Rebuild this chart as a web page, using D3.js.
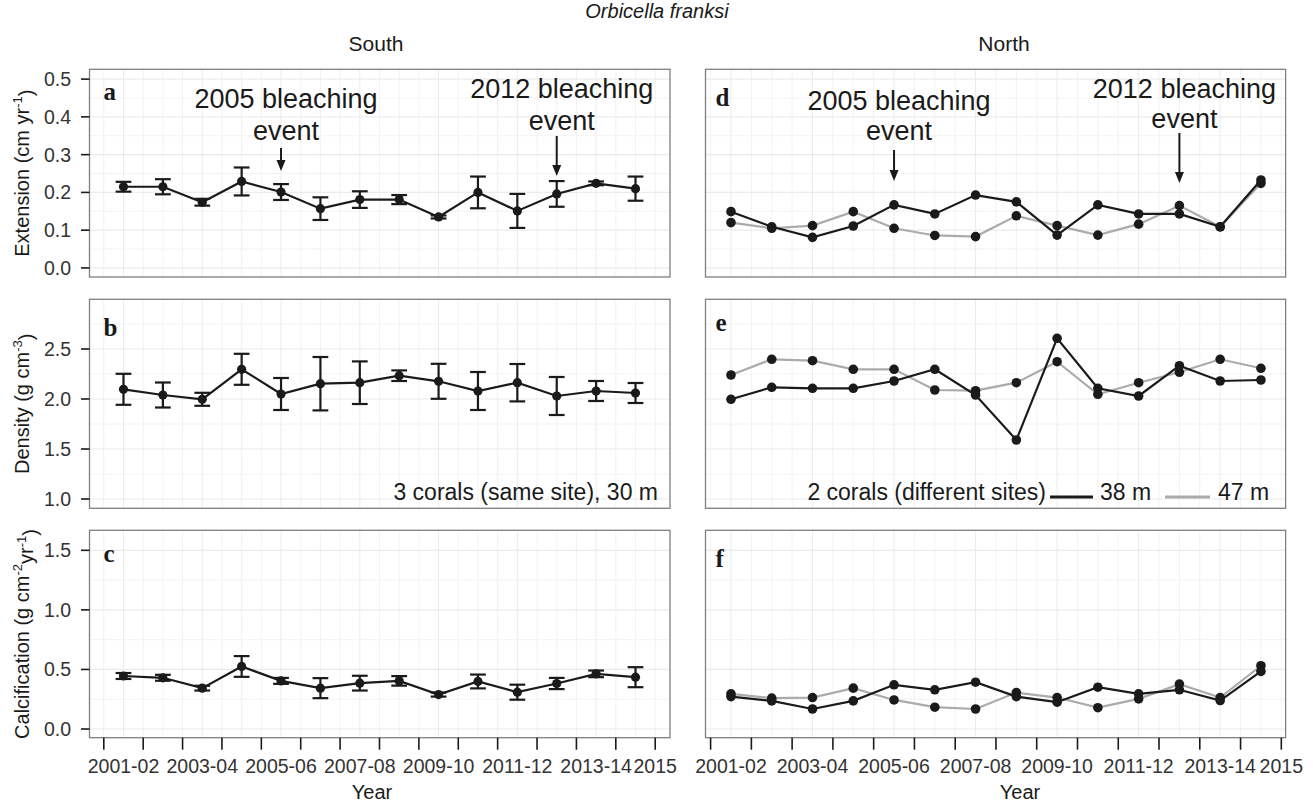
<!DOCTYPE html>
<html>
<head>
<meta charset="utf-8">
<script src="https://cdnjs.cloudflare.com/ajax/libs/d3/7.8.5/d3.min.js"></script>
<style>
  html, body { margin: 0; padding: 0; background: #ffffff; }
  svg { display: block; }
  text { font-family: "Liberation Sans", Arial, Helvetica, sans-serif; fill: #1a1a1a; }
</style>
</head>
<body>
<svg id="chart" width="1313" height="805"></svg>
<script>
// ---------------- DATA ----------------
const years = [2001.5, 2002.5, 2003.5, 2004.5, 2005.5, 2006.5, 2007.5, 2008.5, 2009.5, 2010.5, 2011.5, 2012.5, 2013.5, 2014.5];
const tickYears = [2001, 2002, 2003, 2004, 2005, 2006, 2007, 2008, 2009, 2010, 2011, 2012, 2013, 2014, 2015];
const xLabels = ["2001-02", "2003-04", "2005-06", "2007-08", "2009-10", "2011-12", "2013-14", "2015"];
const xLabelYears = [2001.5, 2003.5, 2005.5, 2007.5, 2009.5, 2011.5, 2013.5, 2015];

// South (mean ± error), 3 corals, 30 m
const southExtension    = [0.215, 0.215, 0.174, 0.229, 0.201, 0.157, 0.181, 0.181, 0.135, 0.200, 0.151, 0.196, 0.224, 0.210];
const southExtensionErr = [0.013, 0.020, 0.009, 0.037, 0.021, 0.030, 0.022, 0.012, 0.004, 0.042, 0.045, 0.034, 0.005, 0.032];
const southDensity      = [2.097, 2.040, 1.997, 2.297, 2.050, 2.153, 2.163, 2.233, 2.177, 2.080, 2.163, 2.030, 2.080, 2.060];
const southDensityErr   = [0.155, 0.125, 0.065, 0.155, 0.160, 0.267, 0.213, 0.053, 0.175, 0.190, 0.187, 0.190, 0.100, 0.100];
const southCalc         = [0.445, 0.430, 0.343, 0.525, 0.404, 0.343, 0.385, 0.404, 0.289, 0.399, 0.309, 0.382, 0.463, 0.435];
const southCalcErr      = [0.025, 0.025, 0.020, 0.087, 0.025, 0.084, 0.062, 0.040, 0.017, 0.058, 0.063, 0.047, 0.028, 0.084];

// North, 2 corals at different sites
const north38Extension = [0.149, 0.109, 0.081, 0.111, 0.167, 0.143, 0.193, 0.175, 0.087, 0.167, 0.143, 0.143, 0.109, 0.233];
const north47Extension = [0.120, 0.105, 0.112, 0.149, 0.105, 0.086, 0.083, 0.138, 0.112, 0.087, 0.116, 0.165, 0.109, 0.224];
const north38Density   = [1.997, 2.117, 2.107, 2.107, 2.180, 2.297, 2.040, 1.590, 2.607, 2.107, 2.030, 2.333, 2.180, 2.190];
const north47Density   = [2.240, 2.397, 2.383, 2.297, 2.297, 2.090, 2.083, 2.163, 2.373, 2.047, 2.163, 2.267, 2.397, 2.307];
const north38Calc      = [0.272, 0.236, 0.168, 0.236, 0.371, 0.329, 0.393, 0.272, 0.225, 0.351, 0.295, 0.329, 0.239, 0.483];
const north47Calc      = [0.295, 0.259, 0.264, 0.343, 0.244, 0.183, 0.168, 0.306, 0.264, 0.179, 0.253, 0.377, 0.264, 0.531];

const yTicksExt  = [0.0, 0.1, 0.2, 0.3, 0.4, 0.5];
const yTicksDen  = [1.0, 1.5, 2.0, 2.5];
const yTicksCalc = [0.0, 0.5, 1.0, 1.5];
const yMinorExt  = [0.05, 0.15, 0.25, 0.35, 0.45];
const yMinorDen  = [1.25, 1.75, 2.25, 2.75];
const yMinorCalc = [0.25, 0.75, 1.25];

const events = [2005.5, 2012.5];
const eventLabels = ["2005 bleaching", "2012 bleaching"];

// ---------------- LAYOUT ----------------
const svg = d3.select("#chart");
const BLACK = "#1a1a1a", GREY = "#ababab";

const cols = [
  { left: 89.5,  right: 670,    domain: [2000.637, 2015.376] },
  { left: 705.5, right: 1285.6, domain: [2000.875, 2015.105] }
];
const rows = [
  { top: 69.3,  bottom: 277,   domain: [-0.024, 0.526], ticks: yTicksExt,  minor: yMinorExt },
  { top: 299.3, bottom: 508.3, domain: [0.907, 2.997],  ticks: yTicksDen,  minor: yMinorDen },
  { top: 530.3, bottom: 737.7, domain: [-0.073, 1.668], ticks: yTicksCalc, minor: yMinorCalc }
];
const xScales = cols.map(c => d3.scaleLinear().domain(c.domain).range([c.left, c.right]));
const yScales = rows.map(r => d3.scaleLinear().domain(r.domain).range([r.bottom, r.top]));

const panelLetters = [["a", "b", "c"], ["d", "e", "f"]];
const letterDy = [[31, 37, 32], [37, 32, 37]];

// grid
const gridYears = d3.range(2001, 2015.01, 0.5);
cols.forEach((c, ci) => {
  rows.forEach((r, ri) => {
    const x = xScales[ci], y = yScales[ri];
    const g = svg.append("g");
    g.selectAll(".vmin").data(gridYears).enter().append("line")
      .attr("x1", d => x(d)).attr("x2", d => x(d))
      .attr("y1", r.top).attr("y2", r.bottom)
      .attr("stroke", d => (d % 1 === 0.5 && (d - 2001.5) % 2 === 0) ? "#ebebeb" : "#f2f2f2")
      .attr("stroke-width", 1);
    g.selectAll(".hmin").data(r.minor).enter().append("line")
      .attr("x1", c.left).attr("x2", c.right)
      .attr("y1", d => y(d)).attr("y2", d => y(d))
      .attr("stroke", "#f2f2f2").attr("stroke-width", 1);
    g.selectAll(".hmaj").data(r.ticks).enter().append("line")
      .attr("x1", c.left).attr("x2", c.right)
      .attr("y1", d => y(d)).attr("y2", d => y(d))
      .attr("stroke", "#ebebeb").attr("stroke-width", 1.2);
  });
});

// ---------------- SOUTH ----------------
const southSeries = [
  [southExtension, southExtensionErr],
  [southDensity, southDensityErr],
  [southCalc, southCalcErr]
];
southSeries.forEach(([vals, errs], ri) => {
  const x = xScales[0], y = yScales[ri];
  const data = years.map((yr, i) => ({ yr, v: vals[i], e: errs[i] }));
  const g = svg.append("g");
  g.append("path").datum(data)
    .attr("d", d3.line().x(d => x(d.yr)).y(d => y(d.v)))
    .attr("fill", "none").attr("stroke", BLACK).attr("stroke-width", 2.2);
  const capW = x(2001.2) - x(2001);
  const eb = g.selectAll(".eb").data(data).enter().append("g");
  eb.append("line").attr("x1", d => x(d.yr)).attr("x2", d => x(d.yr))
    .attr("y1", d => y(d.v - d.e)).attr("y2", d => y(d.v + d.e))
    .attr("stroke", BLACK).attr("stroke-width", 2.2);
  eb.append("line").attr("x1", d => x(d.yr) - capW).attr("x2", d => x(d.yr) + capW)
    .attr("y1", d => y(d.v + d.e)).attr("y2", d => y(d.v + d.e))
    .attr("stroke", BLACK).attr("stroke-width", 2.2);
  eb.append("line").attr("x1", d => x(d.yr) - capW).attr("x2", d => x(d.yr) + capW)
    .attr("y1", d => y(d.v - d.e)).attr("y2", d => y(d.v - d.e))
    .attr("stroke", BLACK).attr("stroke-width", 2.2);
  g.selectAll(".pt").data(data).enter().append("circle")
    .attr("cx", d => x(d.yr)).attr("cy", d => y(d.v)).attr("r", 4.6)
    .attr("fill", BLACK);
});

// ---------------- NORTH ----------------
const northSeries = [
  [north38Extension, north47Extension],
  [north38Density, north47Density],
  [north38Calc, north47Calc]
];
northSeries.forEach(([v38, v47], ri) => {
  const x = xScales[1], y = yScales[ri];
  const g = svg.append("g");
  [[v47, GREY], [v38, BLACK]].forEach(([vals, col]) => {
    const data = years.map((yr, i) => ({ yr, v: vals[i] }));
    g.append("path").datum(data)
      .attr("d", d3.line().x(d => x(d.yr)).y(d => y(d.v)))
      .attr("fill", "none").attr("stroke", col).attr("stroke-width", 2.2);
  });
  [v47, v38].forEach(vals => {
    g.selectAll(null).data(years.map((yr, i) => ({ yr, v: vals[i] }))).enter().append("circle")
      .attr("cx", d => x(d.yr)).attr("cy", d => y(d.v)).attr("r", 4.8)
      .attr("fill", BLACK);
  });
});

// ---------------- BORDERS, AXES ----------------
cols.forEach((c, ci) => {
  rows.forEach((r, ri) => {
    svg.append("rect").attr("x", c.left).attr("y", r.top)
      .attr("width", c.right - c.left).attr("height", r.bottom - r.top)
      .attr("fill", "none").attr("stroke", "#7f7f7f").attr("stroke-width", 1.3);
    svg.append("text").text(panelLetters[ci][ri])
      .attr("x", c.left + (ci === 0 ? 14 : 10)).attr("y", r.top + letterDy[ci][ri])
      .style("font-family", "'Liberation Serif', 'Times New Roman', serif")
      .style("font-weight", "bold").style("font-size", "25px");
  });
});

// y axes (left column only)
rows.forEach((r, ri) => {
  const y = yScales[ri];
  const g = svg.append("g");
  g.selectAll("line").data(r.ticks).enter().append("line")
    .attr("x1", 81).attr("x2", cols[0].left)
    .attr("y1", d => y(d)).attr("y2", d => y(d))
    .attr("stroke", BLACK).attr("stroke-width", 1.6);
  g.selectAll("text").data(r.ticks).enter().append("text")
    .text(d => d3.format(".1f")(d))
    .attr("x", 71).attr("y", d => y(d)).attr("dy", "0.36em")
    .attr("text-anchor", "end").style("font-size", "19.5px").style("fill", "#333");
});

// x axes
cols.forEach((c, ci) => {
  const x = xScales[ci];
  const base = rows[2].bottom;
  const g = svg.append("g");
  g.selectAll("line").data(tickYears).enter().append("line")
    .attr("x1", d => x(d)).attr("x2", d => x(d))
    .attr("y1", base).attr("y2", base + 12)
    .attr("stroke", BLACK).attr("stroke-width", 1.6);
  g.selectAll("text").data(xLabelYears).enter().append("text")
    .text((d, i) => xLabels[i])
    .attr("x", d => x(d)).attr("y", 773)
    .attr("text-anchor", "middle").style("font-size", "19.5px").style("fill", "#333");
});

svg.append("text").text("Year").attr("x", 372).attr("y", 799)
  .attr("text-anchor", "middle").style("font-size", "20px");
svg.append("text").text("Year").attr("x", 1020).attr("y", 799)
  .attr("text-anchor", "middle").style("font-size", "20px");

// titles
svg.append("text").text("Orbicella franksi").attr("x", 657).attr("y", 18)
  .attr("text-anchor", "middle").style("font-size", "20px").style("font-style", "italic");
svg.append("text").text("South").attr("x", 376).attr("y", 51)
  .attr("text-anchor", "middle").style("font-size", "21px");
svg.append("text").text("North").attr("x", 1004).attr("y", 51)
  .attr("text-anchor", "middle").style("font-size", "21px");

// y-axis titles
function yTitle(cy, parts) {
  const t = svg.append("text").attr("transform", `translate(29,${cy}) rotate(-90)`)
    .attr("text-anchor", "middle").style("font-size", "20px");
  parts.forEach(p => {
    const ts = t.append("tspan").text(p[0]);
    if (p[1]) ts.attr("dy", p[1]).style("font-size", "13px");
    if (p[2]) ts.attr("dy", p[2]);
  });
}
yTitle((rows[0].top + rows[0].bottom) / 2, [["Extension (cm yr"], ["-1", "-0.55em"], [")", null, "0.55em"]]);
yTitle((rows[1].top + rows[1].bottom) / 2, [["Density (g cm"], ["-3", "-0.55em"], [")", null, "0.55em"]]);
yTitle((rows[2].top + rows[2].bottom) / 2, [["Calcification (g cm"], ["-2", "-0.55em"], ["yr", null, "0.55em"], ["-1", "-0.55em"], [")", null, "0.55em"]]);

// annotations: bleaching events
const annot = [
  { ci: 0, yr: events[0], label: eventLabels[0], ty1: 108, ty2: 140, a1: 148, a2: 171 },
  { ci: 0, yr: events[1], label: eventLabels[1], ty1: 98,  ty2: 130, a1: 136, a2: 176 },
  { ci: 1, yr: events[0], label: eventLabels[0], ty1: 110, ty2: 140, a1: 150, a2: 181 },
  { ci: 1, yr: events[1], label: eventLabels[1], ty1: 98,  ty2: 128, a1: 133, a2: 183 }
];
annot.forEach(a => {
  const xx = xScales[a.ci](a.yr);
  svg.append("text").text(a.label).attr("x", xx + 5).attr("y", a.ty1)
    .attr("text-anchor", "middle").style("font-size", "27px");
  svg.append("text").text("event").attr("x", xx + 5).attr("y", a.ty2)
    .attr("text-anchor", "middle").style("font-size", "27px");
  svg.append("line").attr("x1", xx).attr("x2", xx).attr("y1", a.a1).attr("y2", a.a2 - 8)
    .attr("stroke", BLACK).attr("stroke-width", 2);
  svg.append("path")
    .attr("d", `M${xx - 4.5},${a.a2 - 11} L${xx + 4.5},${a.a2 - 11} L${xx},${a.a2} Z`)
    .attr("fill", BLACK);
});

// panel notes / legend
svg.append("text").text("3 corals (same site), 30 m")
  .attr("x", 658).attr("y", 500).attr("text-anchor", "end").style("font-size", "23px");
svg.append("text").text("2 corals (different sites)")
  .attr("x", 1046).attr("y", 500).attr("text-anchor", "end").style("font-size", "23px");
svg.append("line").attr("x1", 1050).attr("x2", 1093).attr("y1", 497).attr("y2", 497)
  .attr("stroke", BLACK).attr("stroke-width", 3);
svg.append("text").text("38 m").attr("x", 1100).attr("y", 500).style("font-size", "23px");
svg.append("line").attr("x1", 1165).attr("x2", 1210).attr("y1", 497).attr("y2", 497)
  .attr("stroke", GREY).attr("stroke-width", 3);
svg.append("text").text("47 m").attr("x", 1218).attr("y", 500).style("font-size", "23px");
</script>
</body>
</html>
